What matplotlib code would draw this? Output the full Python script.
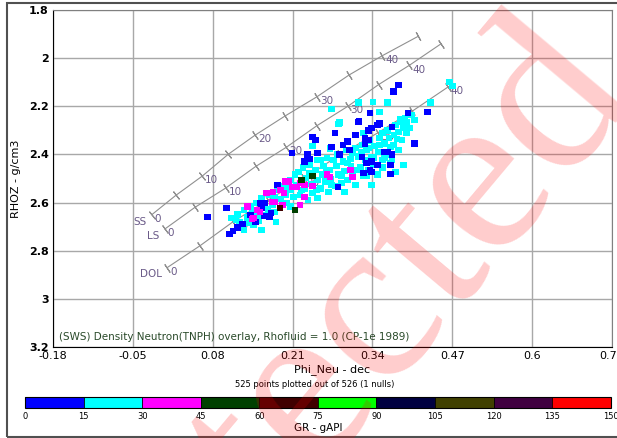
import numpy as np
import matplotlib
matplotlib.use("Agg")
import matplotlib.pyplot as plt
from matplotlib.colors import ListedColormap, BoundaryNorm
from matplotlib.patches import Rectangle
import matplotlib.cm as cm

plt.rcParams['font.family'] = ['DejaVu Sans']

# --- chart frame ---
x_ticks = [-0.18, -0.05, 0.08, 0.21, 0.34, 0.47, 0.6, 0.73]
y_ticks = [1.8, 2.0, 2.2, 2.4, 2.6, 2.8, 3.0, 3.2]

# --- CP-1e overlay lines (porosity 0..45 p.u., step 5) ---
por_ss = [0, 5, 10, 15, 20, 25, 30, 35, 40, 45]
ss_phi = [-0.019, 0.020, 0.063, 0.105, 0.149, 0.198, 0.250, 0.302, 0.356, 0.414]
ss_rho = [2.65, 2.57, 2.49, 2.40, 2.32, 2.24, 2.16, 2.07, 1.99, 1.91]
por_ls = [0, 5, 10, 15, 20, 25, 30, 35, 40, 45]
ls_phi = [0.002, 0.051, 0.101, 0.150, 0.200, 0.250, 0.300, 0.350, 0.400, 0.452]
ls_rho = [2.71, 2.62, 2.54, 2.45, 2.37, 2.28, 2.20, 2.11, 2.03, 1.94]
por_dol = [0, 5, 10, 15, 20, 25, 30, 35, 40]
dol_phi = [0.006, 0.059, 0.113, 0.170, 0.228, 0.288, 0.349, 0.405, 0.463]
dol_rho = [2.87, 2.78, 2.68, 2.59, 2.50, 2.40, 2.31, 2.22, 2.12]

# --- GR colour classes ---
gr_bounds = [0, 15, 30, 45, 60, 75, 90, 105, 120, 135, 150]
gr_colors = ['#0000ff', '#00ffff', '#ff00ff', '#004000', '#400000',
             '#00ff00', '#000040', '#404000', '#400040', '#ff0000']

# --- data points (Phi_Neu, RHOZ), grouped by GR class ---
gr_blue = 8
blue_phi = [0.072, 0.103, 0.113, 0.121, 0.129, 0.107, 0.141, 0.149, 0.157, 0.165,
            0.175, 0.160, 0.185, 0.164, 0.172, 0.279, 0.312, 0.317, 0.292, 0.274,
            0.243, 0.247, 0.234, 0.238, 0.209, 0.230, 0.250, 0.299, 0.287, 0.328,
            0.338, 0.331, 0.325, 0.382, 0.374, 0.398, 0.429, 0.336, 0.318, 0.352,
            0.348, 0.339, 0.333, 0.372, 0.409, 0.328, 0.333, 0.323, 0.365, 0.372,
            0.360, 0.339, 0.336, 0.369, 0.369, 0.348, 0.303, 0.284]
blue_rho = [2.660, 2.623, 2.718, 2.702, 2.689, 2.731, 2.652, 2.681, 2.602, 2.602,
            2.643, 2.623, 2.527, 2.656, 2.660, 2.311, 2.319, 2.265, 2.361, 2.369,
            2.328, 2.340, 2.402, 2.419, 2.394, 2.431, 2.394, 2.348, 2.402, 2.353,
            2.473, 2.436, 2.477, 2.112, 2.137, 2.228, 2.224, 2.228, 2.261, 2.270,
            2.278, 2.290, 2.299, 2.286, 2.353, 2.332, 2.340, 2.411, 2.390, 2.402,
            2.390, 2.431, 2.465, 2.444, 2.481, 2.444, 2.382, 2.535]

gr_cyan = 22
cyan_phi = [0.111, 0.121, 0.124, 0.131, 0.136, 0.141, 0.144, 0.151, 0.154, 0.160,
            0.163, 0.167, 0.173, 0.177, 0.181, 0.186, 0.190, 0.194, 0.198, 0.201,
            0.206, 0.207, 0.211, 0.216, 0.219, 0.222, 0.227, 0.230, 0.232, 0.235,
            0.238, 0.240, 0.243, 0.247, 0.250, 0.251, 0.255, 0.258, 0.260, 0.263,
            0.266, 0.268, 0.271, 0.272, 0.276, 0.279, 0.281, 0.284, 0.287, 0.289,
            0.292, 0.295, 0.297, 0.300, 0.304, 0.305, 0.308, 0.312, 0.313, 0.317,
            0.320, 0.323, 0.325, 0.328, 0.331, 0.333, 0.336, 0.338, 0.341, 0.344,
            0.348, 0.349, 0.352, 0.356, 0.357, 0.360, 0.364, 0.365, 0.369, 0.372,
            0.375, 0.378, 0.382, 0.385, 0.388, 0.393, 0.396, 0.401, 0.404, 0.409,
            0.391, 0.377, 0.339, 0.295, 0.251, 0.206, 0.183, 0.160,
            0.434, 0.385, 0.396, 0.380, 0.365, 0.341, 0.317, 0.274, 0.352, 0.287,
            0.357, 0.333, 0.271, 0.243, 0.466, 0.471, 0.370, 0.285, 0.325,
            0.214, 0.224, 0.237, 0.249, 0.256, 0.265, 0.274, 0.283, 0.290, 0.299,
            0.307, 0.315, 0.322, 0.330, 0.334, 0.342, 0.351, 0.359, 0.367, 0.374,
            0.383, 0.390, 0.199, 0.180, 0.170, 0.155, 0.147, 0.137, 0.118, 0.131]
cyan_rho = [2.664, 2.648, 2.681, 2.631, 2.660, 2.614, 2.639, 2.602, 2.677, 2.581,
            2.618, 2.652, 2.569, 2.610, 2.639, 2.548, 2.585, 2.531, 2.569, 2.602,
            2.506, 2.548, 2.577, 2.527, 2.473, 2.569, 2.456, 2.544, 2.498, 2.589,
            2.444, 2.523, 2.560, 2.465, 2.506, 2.423, 2.540, 2.485, 2.448, 2.514,
            2.415, 2.556, 2.465, 2.502, 2.423, 2.531, 2.448, 2.485, 2.402, 2.519,
            2.431, 2.469, 2.382, 2.506, 2.419, 2.448, 2.485, 2.373, 2.527, 2.407,
            2.456, 2.361, 2.490, 2.423, 2.382, 2.465, 2.340, 2.411, 2.444, 2.365,
            2.485, 2.390, 2.332, 2.423, 2.456, 2.353, 2.299, 2.402, 2.369, 2.423,
            2.319, 2.278, 2.382, 2.265, 2.340, 2.249, 2.311, 2.290, 2.236, 2.257,
            2.444, 2.473, 2.527, 2.556, 2.581, 2.618, 2.681, 2.714,
            2.186, 2.253, 2.265, 2.336, 2.186, 2.182, 2.186, 2.211, 2.224, 2.269,
            2.311, 2.344, 2.377, 2.365, 2.099, 2.116, 2.436, 2.274, 2.311,
            2.485, 2.548, 2.477, 2.548, 2.423, 2.465, 2.527, 2.402, 2.490, 2.436,
            2.394, 2.465, 2.390, 2.490, 2.373, 2.415, 2.361, 2.415, 2.332, 2.361,
            2.307, 2.290, 2.540, 2.577, 2.627, 2.652, 2.693, 2.685, 2.672, 2.714]

gr_magenta = 38
mag_phi = [0.304, 0.307, 0.266, 0.271, 0.243, 0.222, 0.217, 0.230, 0.222, 0.198,
           0.190, 0.178, 0.177, 0.168, 0.193, 0.157, 0.152, 0.146, 0.203, 0.230,
           0.209, 0.144, 0.196, 0.181, 0.136]
mag_rho = [2.465, 2.494, 2.485, 2.494, 2.531, 2.519, 2.535, 2.577, 2.610, 2.514,
           2.548, 2.556, 2.598, 2.560, 2.610, 2.639, 2.631, 2.664, 2.514, 2.527,
           2.535, 2.668, 2.560, 2.598, 2.618]

gr_dkgreen = 52
dkg_phi = [0.214, 0.224, 0.243]
dkg_rho = [2.631, 2.506, 2.490]

gr_maroon = 68
mar_phi = [0.190]
mar_rho = [2.623]

# ---------------------------------------------------------------
fig = plt.figure(figsize=(6.17, 4.38), dpi=100)
fig.patches.append(Rectangle((0.012, 0.003), 1.2, 0.99, transform=fig.transFigure,
                             fill=False, edgecolor='#505050', lw=1.5, figure=fig))

ax = fig.add_axes([0.0859, 0.2078, 0.9060, 0.7694])
ax.set_xlim(x_ticks[0], x_ticks[-1])
ax.set_ylim(y_ticks[-1], y_ticks[0])
ax.set_xticks(x_ticks)
ax.set_yticks(y_ticks)
ax.set_xticklabels(['%g' % v for v in x_ticks], fontsize=8)
ax.set_yticklabels(['%g' % v for v in y_ticks], fontsize=8, fontweight='bold')
ax.tick_params(length=0, pad=3)
ax.grid(True, color='#a8a8a8', lw=1)
ax.set_axisbelow(True)
for s in ['top', 'right']:
    ax.spines[s].set_color('#808080')
ax.set_xlabel('Phi_Neu - dec', fontsize=8, labelpad=2)
ax.set_ylabel('RHOZ - g/cm3', fontsize=8, labelpad=6)

# overlay lines
lab_col = '#6a5a88'
fig.canvas.draw()
for name, por, phi, rho in [('SS', por_ss, ss_phi, ss_rho),
                            ('LS', por_ls, ls_phi, ls_rho),
                            ('DOL', por_dol, dol_phi, dol_rho)]:
    ax.plot(phi, rho, color='#909090', lw=0.8, zorder=2)
    disp = ax.transData.transform(np.column_stack([phi, rho]))
    d = np.gradient(disp, axis=0)
    ang = np.degrees(np.arctan2(d[:, 1], d[:, 0]))
    for i in range(len(por)):
        ax.plot(phi[i], rho[i], marker=(2, 2, ang[i]), ms=7, mew=0.8,
                color='#909090', zorder=2)
        if por[i] % 10 == 0:
            ax.annotate('%d' % por[i], (phi[i], rho[i]), xytext=(2, -3),
                        textcoords='offset points', ha='left', va='center',
                        fontsize=7.5, color=lab_col, zorder=2)
    ax.annotate(name, (phi[0], rho[0]), xytext=(-4, -5), textcoords='offset points',
                ha='right', va='center', fontsize=7.5, color=lab_col, zorder=2)

# scatter
cmap = ListedColormap(gr_colors)
norm = BoundaryNorm(gr_bounds, cmap.N)
for phi, rho, gr in [(cyan_phi, cyan_rho, gr_cyan), (blue_phi, blue_rho, gr_blue),
                     (mag_phi, mag_rho, gr_magenta), (dkg_phi, dkg_rho, gr_dkgreen),
                     (mar_phi, mar_rho, gr_maroon)]:
    ax.scatter(phi, rho, c=[gr] * len(phi), cmap=cmap, norm=norm, marker='s',
               s=24, linewidths=0, zorder=3)

ax.text(0.01, 0.015, '(SWS) Density Neutron(TNPH) overlay, Rhofluid = 1.0 (CP-1e 1989)',
        transform=ax.transAxes, fontsize=7.5, color='#2a4a2a', ha='left', va='bottom')

fig.text(0.51, 0.123, '525 points plotted out of 526 (1 nulls)', fontsize=6,
         ha='center', va='center')

# colour bar
cax = fig.add_axes([0.0405, 0.0685, 0.9495, 0.0251])
cb = fig.colorbar(cm.ScalarMappable(norm=norm, cmap=cmap), cax=cax,
                  orientation='horizontal', drawedges=True, ticks=gr_bounds)
cb.outline.set_linewidth(0.8)
cb.dividers.set_linewidth(0.6)
cax.tick_params(length=0, labelsize=6, pad=3)
cax.set_xticklabels(['%d' % v for v in gr_bounds])
cb.set_label('GR - gAPI', fontsize=7.5, labelpad=1)

# watermark
fig.text(1.03, 0.79, 'Protected', fontsize=170, family='Liberation Serif',
         rotation=50, rotation_mode='anchor', ha='right', va='baseline',
         color='red', alpha=0.2, zorder=10)

fig.savefig('out.png', dpi=100)
